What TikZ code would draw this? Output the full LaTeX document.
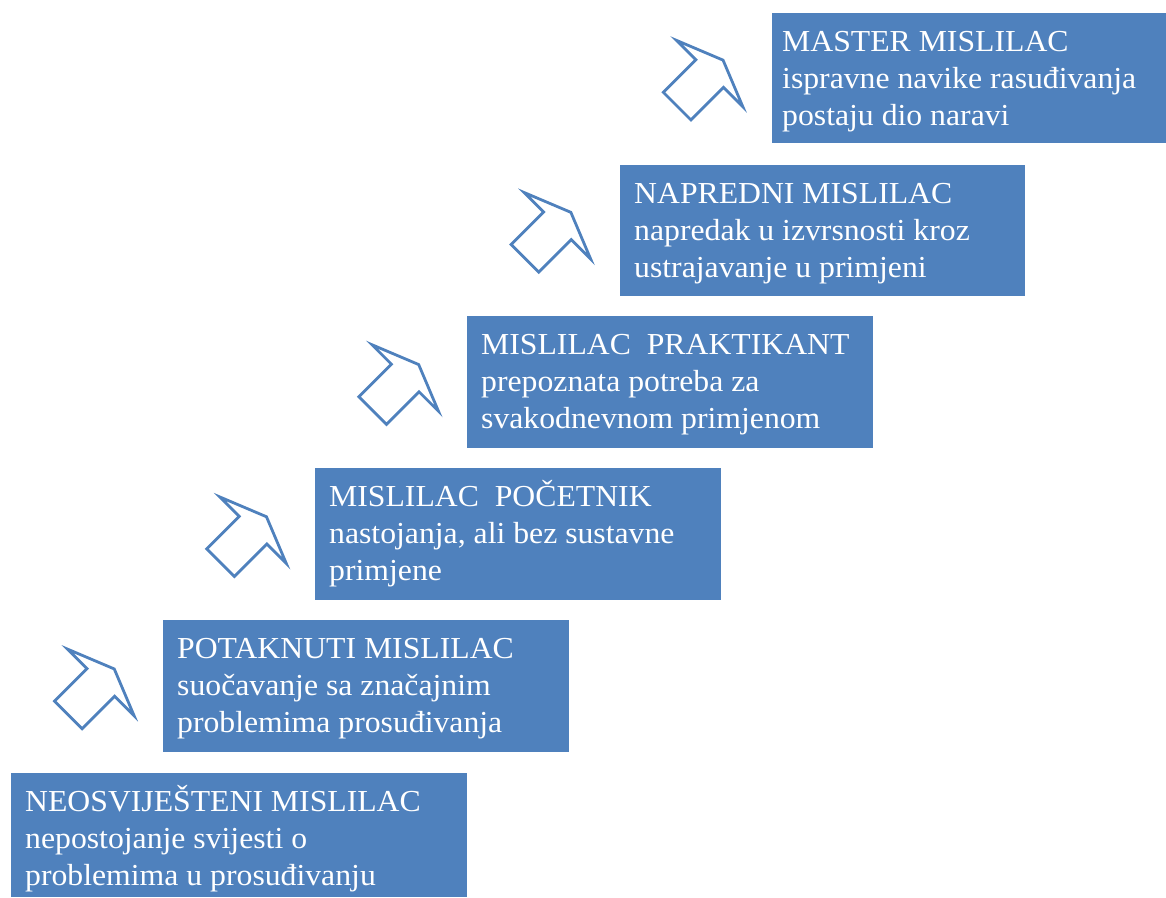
\documentclass[tikz,border=0pt]{standalone}
\usepackage{fontspec}
\setmainfont{Liberation Serif}[FakeStretch=1.04]
\definecolor{stepblue}{HTML}{4F81BD}
\begin{document}
\begin{tikzpicture}[x=1pt,y=-1pt,
  levelbox/.style={fill=stepblue, draw=none, anchor=north west, inner sep=0pt, outer sep=0pt},
  leveltext/.style={anchor=base west, inner sep=0pt, align=left, text=white,
    font=\fontsize{30.5}{37}\selectfont},
  stairarrow/.pic={
    \draw[stepblue, line width=2.8pt, line join=miter]
      (-19.5,0) -- (-19.5,-46) -- (-47,-46) -- (0,-65) -- (47,-46) -- (19.5,-46) -- (19.5,0) -- cycle;
  }]
\useasboundingbox (0,0) rectangle (1166,897);

% level boxes, bottom step to top step
\node[levelbox, minimum width=456pt, minimum height=124pt] (b1) at (11,773) {};
\node[levelbox, minimum width=406pt, minimum height=132pt] (b2) at (163,620) {};
\node[levelbox, minimum width=406pt, minimum height=132pt] (b3) at (315,468) {};
\node[levelbox, minimum width=406pt, minimum height=132pt] (b4) at (467,316) {};
\node[levelbox, minimum width=405pt, minimum height=131pt] (b5) at (620,165) {};
\node[levelbox, minimum width=394pt, minimum height=130pt] (b6) at (772,13) {};

% level texts (anchored on the baseline of their third line)
\node[leveltext] (t1) at ([shift={(14,112)}]b1.north west)
  {NEOSVIJEŠTENI MISLILAC\\nepostojanje svijesti o\\problemima u prosuđivanju};
\node[leveltext] (t2) at ([shift={(14,112)}]b2.north west)
  {POTAKNUTI MISLILAC\\suočavanje sa značajnim\\problemima prosuđivanja};
\node[leveltext] (t3) at ([shift={(14,112)}]b3.north west)
  {MISLILAC\ \ POČETNIK\\nastojanja, ali bez sustavne\\primjene};
\node[leveltext] (t4) at ([shift={(14,112)}]b4.north west)
  {MISLILAC\ \ PRAKTIKANT\\prepoznata potreba za\\svakodnevnom primjenom};
\node[leveltext] (t5) at ([shift={(14,112)}]b5.north west)
  {NAPREDNI MISLILAC\\napredak u izvrsnosti kroz\\ustrajavanje u primjeni};
\node[leveltext] (t6) at ([shift={(10,112)}]b6.north west)
  {MASTER MISLILAC\\ispravne navike rasuđivanja\\postaju dio naravi};

% outlined step arrows
\pic (a1) [rotate=-45] at (68.3,714.9) {stairarrow};
\pic (a2) [rotate=-45] at (220.5,562.7) {stairarrow};
\pic (a3) [rotate=-45] at (372.7,410.5) {stairarrow};
\pic (a4) [rotate=-45] at (524.9,258.3) {stairarrow};
\pic (a5) [rotate=-45] at (677.1,106.1) {stairarrow};
\end{tikzpicture}
\end{document}
